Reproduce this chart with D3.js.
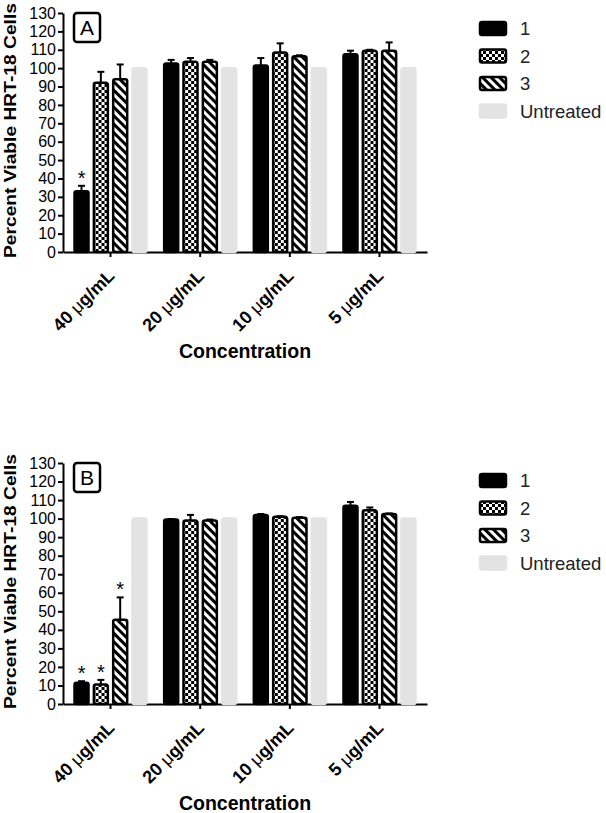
<!DOCTYPE html>
<html>
<head>
<meta charset="utf-8">
<script src="https://cdn.jsdelivr.net/npm/d3@7"></script>
<style>
  html, body { margin: 0; padding: 0; background: #fff; }
  svg { display: block; font-family: "Liberation Sans", Arial, Helvetica, sans-serif; }
</style>
</head>
<body>
<svg id="chart" width="606" height="813"></svg>
<script>
// ---- data ----
const concentrations = ["40 μg/mL", "20 μg/mL", "10 μg/mL", "5 μg/mL"];
const seriesNames = ["1", "2", "3", "Untreated"];
const yTicks = [0, 10, 20, 30, 40, 50, 60, 70, 80, 90, 100, 110, 120, 130];

// rows = concentrations, columns = series (1, 2, 3, Untreated)
const meansA = [[33, 92, 94, 100], [102.5, 103.5, 103.5, 100], [101.5, 108.5, 106.5, 100], [107.5, 109.5, 109.5, 100]];
const errA   = [[3, 6, 8, 0], [2, 2, 1, 0], [4, 5, 0.5, 0], [2, 0.5, 4.5, 0]];
const sigA   = [[1, 0, 0, 0], [0, 0, 0, 0], [0, 0, 0, 0], [0, 0, 0, 0]];

const meansB = [[11.5, 10.5, 45.5, 100], [99.5, 99, 99, 100], [102, 101, 100.5, 100], [107, 104.5, 102.5, 100]];
const errB   = [[0.8, 2.5, 12, 0], [0.3, 3, 0.5, 0], [0.5, 0.3, 0.3, 0], [2, 1.5, 0.3, 0]];
const sigB   = [[1, 1, 1, 0], [0, 0, 0, 0], [0, 0, 0, 0], [0, 0, 0, 0]];

// ---- drawing ----
const svg = d3.select("#chart");
const defs = svg.append("defs");

// checker pattern
const chk = defs.append("pattern").attr("id", "checker")
  .attr("patternUnits", "userSpaceOnUse").attr("width", 6).attr("height", 6);
chk.append("rect").attr("width", 6).attr("height", 6).attr("fill", "#fff");
chk.append("rect").attr("width", 3).attr("height", 3).attr("fill", "#000");
chk.append("rect").attr("x", 3).attr("y", 3).attr("width", 3).attr("height", 3).attr("fill", "#000");

// diagonal stripes "\" direction
const dia = defs.append("pattern").attr("id", "diag")
  .attr("patternUnits", "userSpaceOnUse").attr("width", 6).attr("height", 6)
  .attr("patternTransform", "rotate(45)");
dia.append("rect").attr("width", 6).attr("height", 6).attr("fill", "#fff");
dia.append("rect").attr("width", 6).attr("height", 3).attr("fill", "#000");

const fills = ["#000", "url(#checker)", "url(#diag)", "#e3e3e3"];
const strokes = ["#000", "#000", "#000", "#e3e3e3"];

function drawPanel(cfg) {
  const g = svg.append("g");
  const y = d3.scaleLinear().domain([0, 130]).range([cfg.y0, cfg.y130]);
  const x = d3.scaleBand().domain(concentrations).range([63, 427]).paddingInner(0).paddingOuter(0.03);
  const xi = d3.scaleBand().domain(seriesNames).range([-36, 36]).paddingInner(0.276);

  // y axis
  const ya = g.append("g").attr("transform", "translate(63,0)")
    .call(d3.axisLeft(y).tickValues(yTicks).tickSize(5).tickSizeOuter(0).tickPadding(2));
  ya.select(".domain").attr("stroke-width", 2);
  ya.selectAll(".tick line").attr("stroke-width", 2);
  ya.selectAll(".tick text").attr("font-size", 16).attr("fill", "#000")
    .attr("font-family", "'Liberation Sans', Arial, sans-serif");

  // x axis
  const xa = g.append("g").attr("transform", `translate(0,${cfg.y0})`)
    .call(d3.axisBottom(x).tickSize(5).tickSizeOuter(0).tickFormat(""));
  xa.select(".domain").attr("stroke-width", 2);
  xa.selectAll(".tick line").attr("stroke-width", 2);

  // x labels rotated
  concentrations.forEach(c => {
    const cx = x(c) + x.bandwidth() / 2;
    const parts = c.split("μ");
    const t = g.append("text")
      .attr("transform", `translate(${cx + 5},${cfg.y0 + 25}) rotate(-45)`)
      .attr("text-anchor", "end").attr("font-size", 18).attr("font-weight", "bold").attr("fill", "#000");
    t.append("tspan").text(parts[0]);
    t.append("tspan").attr("font-weight", "normal").text("μ");
    t.append("tspan").text(parts[1]);
  });

  // bars
  cfg.means.forEach((row, i) => {
    const cx = x(concentrations[i]) + x.bandwidth() / 2;
    const gg = g.append("g").attr("transform", `translate(${cx},0)`);
    gg.selectAll("rect.bar").data(row).join("rect").attr("class", "bar")
      .attr("x", (d, j) => xi(seriesNames[j]))
      .attr("width", xi.bandwidth())
      .attr("y", d => y(d))
      .attr("height", d => cfg.y0 - y(d))
      .attr("rx", 2).attr("ry", 2)
      .attr("fill", (d, j) => fills[j])
      .attr("stroke", (d, j) => strokes[j])
      .attr("stroke-width", 2.5);
    // error bars
    row.forEach((d, j) => {
      const e = cfg.err[i][j];
      const bx = xi(seriesNames[j]) + xi.bandwidth() / 2;
      if (e > 0) {
        gg.append("line").attr("x1", bx).attr("x2", bx).attr("y1", y(d)).attr("y2", y(d + e))
          .attr("stroke", "#000").attr("stroke-width", 2);
        gg.append("line").attr("x1", bx - 3.5).attr("x2", bx + 3.5).attr("y1", y(d + e)).attr("y2", y(d + e))
          .attr("stroke", "#000").attr("stroke-width", 2);
      }
      if (cfg.sig[i][j]) {
        gg.append("text").attr("x", bx).attr("y", y(d + e) - 1)
          .attr("text-anchor", "middle").attr("font-size", 20).attr("fill", "#000").text("*");
      }
    });
  });

  // panel label box
  g.append("rect").attr("x", 74).attr("y", cfg.y130).attr("width", 26).attr("height", 29)
    .attr("rx", 3).attr("fill", "#fff").attr("stroke", "#000").attr("stroke-width", 2.5);
  g.append("text").attr("x", 87).attr("y", cfg.y130 + 22).attr("text-anchor", "middle")
    .attr("font-size", 21).attr("fill", "#000").text(cfg.label);

  // y title
  g.append("text")
    .attr("transform", `translate(15.5,${(cfg.y0 + cfg.y130) / 2 - 2}) rotate(-90)`)
    .attr("text-anchor", "middle").attr("font-size", 17).attr("font-weight", "bold").attr("fill", "#000")
    .attr("textLength", 255).attr("lengthAdjust", "spacingAndGlyphs")
    .text("Percent Viable HRT-18 Cells");

  // x title
  g.append("text").attr("x", 245).attr("y", cfg.titleY).attr("text-anchor", "middle")
    .attr("font-size", 19.5).attr("font-weight", "bold").attr("fill", "#000").text("Concentration");

  // legend
  const lg = g.append("g");
  seriesNames.forEach((s, j) => {
    const ly = cfg.legY + j * 27.5;
    lg.append("rect").attr("x", 480).attr("y", ly - 6.5).attr("width", 26).attr("height", 13)
      .attr("rx", 2).attr("fill", fills[j]).attr("stroke", strokes[j]).attr("stroke-width", 2.5);
    lg.append("text").attr("x", 520).attr("y", ly + 6.5).attr("font-size", 18.5).attr("fill", "#222").text(s);
  });
}

drawPanel({ label: "A", y0: 252, y130: 13, means: meansA, err: errA, sig: sigA, titleY: 358, legY: 28.5 });
drawPanel({ label: "B", y0: 704, y130: 463, means: meansB, err: errB, sig: sigB, titleY: 810, legY: 480.5 });
</script>
</body>
</html>
